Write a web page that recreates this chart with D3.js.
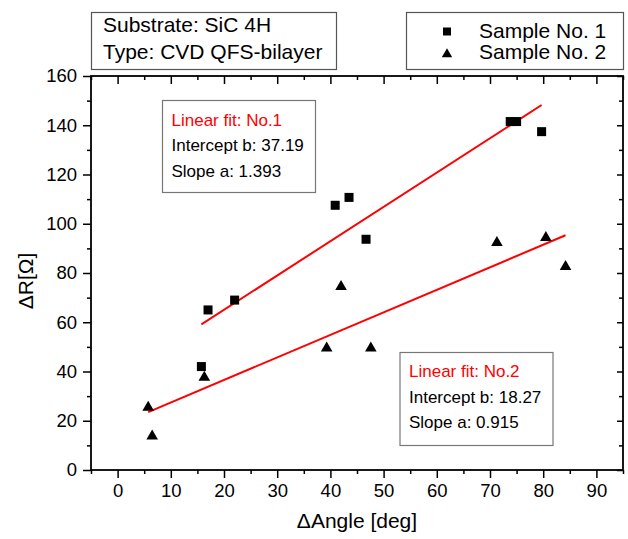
<!DOCTYPE html>
<html>
<head>
<meta charset="utf-8">
<script src="https://cdn.jsdelivr.net/npm/d3@7"></script>
<style>
  html, body { margin: 0; padding: 0; background: #fff; }
  svg { display: block; font-family: "Liberation Sans", Arial, sans-serif; }
</style>
</head>
<body>
<svg id="chart" width="628" height="539"></svg>
<script>
// ---- data ----
const sample1X = [15.75, 17.0, 22.0, 40.9, 43.5, 46.7, 73.8, 75.0, 79.7];
const sample1Y = [42.0, 65.0, 69.0, 107.5, 110.7, 93.7, 141.5, 141.5, 137.4];
const sample2X = [5.75, 6.5, 16.3, 39.3, 42.0, 47.6, 71.3, 80.5, 84.2];
const sample2Y = [26.0, 14.3, 38.2, 50.1, 75.0, 50.1, 92.9, 94.9, 83.2];
const fitIntercepts = [37.19, 18.27];
const fitSlopes = [1.393, 0.915];
const fitNames = ["Linear fit: No.1", "Linear fit: No.2"];
const legendLabels = ["Sample No. 1", "Sample No. 2"];
const infoLines = ["Substrate: SiC 4H", "Type: CVD QFS-bilayer"];
const xTicks = [0, 10, 20, 30, 40, 50, 60, 70, 80, 90];
const xMinorTicks = [-5, 5, 15, 25, 35, 45, 55, 65, 75, 85, 95];
const yTicks = [0, 20, 40, 60, 80, 100, 120, 140, 160];
const yMinorTicks = [10, 30, 50, 70, 90, 110, 130, 150];
const xDomain = [-5, 95];
const yDomain = [0, 160];

// ---- layout ----
const svg = d3.select("#chart");
const pLeft = 91, pRight = 623, pTop = 76, pBottom = 470;
const x = d3.scaleLinear().domain(xDomain).range([pLeft, pRight]);
const y = d3.scaleLinear().domain(yDomain).range([pBottom, pTop]);

const fontTick = 18.5, fontTitle = 21;

// axes
const axB = svg.append("g").attr("transform", `translate(0,${pBottom})`)
  .call(d3.axisBottom(x).tickValues(xTicks).tickSize(8).tickPadding(6).tickFormat(d3.format("d")));
const axBm = svg.append("g").attr("transform", `translate(0,${pBottom})`)
  .call(d3.axisBottom(x).tickValues(xMinorTicks).tickSize(4).tickFormat(""));
const axT = svg.append("g").attr("transform", `translate(0,${pTop})`)
  .call(d3.axisBottom(x).tickValues(xTicks).tickSize(8).tickFormat(""));
const axTm = svg.append("g").attr("transform", `translate(0,${pTop})`)
  .call(d3.axisBottom(x).tickValues(xMinorTicks).tickSize(4).tickFormat(""));
const axL = svg.append("g").attr("transform", `translate(${pLeft},0)`)
  .call(d3.axisLeft(y).tickValues(yTicks).tickSize(8).tickPadding(6).tickFormat(d3.format("d")));
const axLm = svg.append("g").attr("transform", `translate(${pLeft},0)`)
  .call(d3.axisLeft(y).tickValues(yMinorTicks).tickSize(4).tickFormat(""));
const axR = svg.append("g").attr("transform", `translate(${pRight},0)`)
  .call(d3.axisLeft(y).tickValues(yTicks).tickSize(6).tickFormat(""));
const axRm = svg.append("g").attr("transform", `translate(${pRight},0)`)
  .call(d3.axisLeft(y).tickValues(yMinorTicks).tickSize(4).tickFormat(""));

[axB, axBm, axT, axTm, axL, axLm, axR, axRm].forEach(g => {
  g.select(".domain").remove();
  g.selectAll("line").attr("stroke", "#000").attr("stroke-width", 1.5);
  g.selectAll("text").attr("font-size", fontTick).attr("fill", "#000")
    .attr("font-family", "'Liberation Sans', Arial, sans-serif");
});

// frame
svg.append("rect")
  .attr("x", pLeft).attr("y", pTop)
  .attr("width", pRight - pLeft).attr("height", pBottom - pTop)
  .attr("fill", "none").attr("stroke", "#000").attr("stroke-width", 1.8);

// axis titles
svg.append("text")
  .attr("x", (pLeft + pRight) / 2).attr("y", 528)
  .attr("text-anchor", "middle").attr("font-size", fontTitle)
  .text("\u0394Angle [deg]");
svg.append("text")
  .attr("transform", `translate(33,${(pTop + pBottom) / 2 + 8}) rotate(-90)`)
  .attr("text-anchor", "middle").attr("font-size", fontTitle)
  .text("\u0394R[\u03A9]");

// fit lines
const seriesX = [sample1X, sample2X];
seriesX.forEach((xs, i) => {
  const ext = d3.extent(xs);
  const pts = ext.map(v => [v, fitIntercepts[i] + fitSlopes[i] * v]);
  svg.append("path")
    .attr("d", d3.line().x(d => x(d[0])).y(d => y(d[1]))(pts))
    .attr("stroke", "#ff0000").attr("stroke-width", 2).attr("fill", "none");
});

// markers
const sq = 9;
const triPath = "M0,-5.2L5.8,4.8L-5.8,4.8Z";
svg.append("g").selectAll("rect")
  .data(sample1X.map((v, i) => [v, sample1Y[i]]))
  .join("rect")
  .attr("x", d => x(d[0]) - sq / 2).attr("y", d => y(d[1]) - sq / 2)
  .attr("width", sq).attr("height", sq).attr("fill", "#000");
svg.append("g").selectAll("path")
  .data(sample2X.map((v, i) => [v, sample2Y[i]]))
  .join("path")
  .attr("transform", d => `translate(${x(d[0])},${y(d[1])})`)
  .attr("d", triPath).attr("fill", "#000");

// info box (top-left)
svg.append("rect").attr("x", 91.5).attr("y", 12.5).attr("width", 245).attr("height", 57)
  .attr("fill", "#fff").attr("stroke", "#555").attr("stroke-width", 1.2);
infoLines.forEach((t, i) => {
  svg.append("text").attr("x", 103).attr("y", 32 + i * 26.5)
    .attr("font-size", 21).text(t);
});

// legend box (top-right)
svg.append("rect").attr("x", 406.5).attr("y", 12.5).attr("width", 217).attr("height", 57)
  .attr("fill", "#fff").attr("stroke", "#555").attr("stroke-width", 1.2);
legendLabels.forEach((t, i) => {
  const cy = 31.5 + i * 21.5;
  if (i === 0) {
    svg.append("rect").attr("x", 447 - 4).attr("y", cy - 4).attr("width", 8).attr("height", 8).attr("fill", "#000");
  } else {
    svg.append("path").attr("transform", `translate(447,${cy})`).attr("d", "M0,-4.8L5.2,4.3L-5.2,4.3Z").attr("fill", "#000");
  }
  svg.append("text").attr("x", 479).attr("y", 37.5 + i * 21.5).attr("font-size", 21).text(t);
});

// fit boxes
const fitBoxes = [
  { x: 162.5, y: 100.5, w: 153, h: 92, tx: 171.5, ty: 125.7 },
  { x: 400, y: 352.5, w: 153, h: 93, tx: 409, ty: 377.3 }
];
fitBoxes.forEach((b, i) => {
  svg.append("rect").attr("x", b.x).attr("y", b.y).attr("width", b.w).attr("height", b.h)
    .attr("fill", "#fff").attr("stroke", "#777").attr("stroke-width", 1.2);
  const lines = [fitNames[i], "Intercept b: " + fitIntercepts[i].toFixed(2), "Slope a: " + fitSlopes[i].toFixed(3)];
  lines.forEach((t, j) => {
    svg.append("text").attr("x", b.tx).attr("y", b.ty + j * 25.5)
      .attr("font-size", 17).attr("fill", j === 0 ? "#ff0000" : "#000").text(t);
  });
});
</script>
</body>
</html>
